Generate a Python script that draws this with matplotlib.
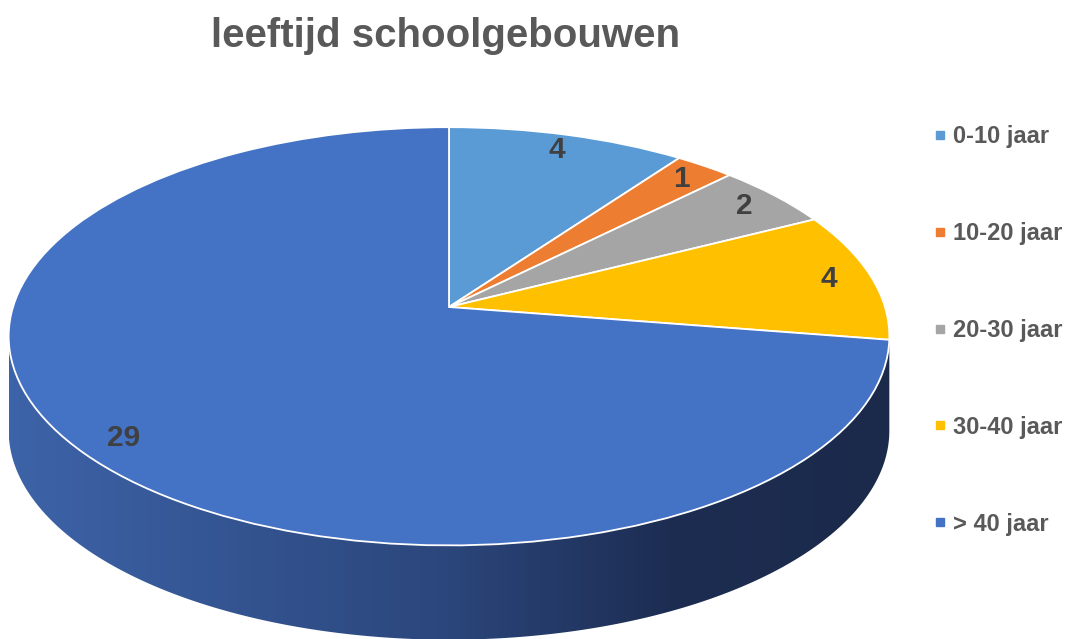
import numpy as np
import matplotlib.pyplot as plt
from matplotlib.colors import LinearSegmentedColormap
from matplotlib.lines import Line2D
from matplotlib.transforms import Transform

categories = ["0-10 jaar", "10-20 jaar", "20-30 jaar", "30-40 jaar", "> 40 jaar"]
counts = [4, 1, 2, 4, 29]
colors = ["#5B9BD5", "#ED7D31", "#A5A5A5", "#FFC000", "#4472C4"]

plt.rcParams["font.family"] = ["Liberation Sans", "DejaVu Sans"]


class Tilt(Transform):
    """Simple perspective for a disc seen from the front: far side shrinks."""
    input_dims = output_dims = 2
    is_separable = False
    has_inverse = False

    def __init__(self, k):
        super().__init__()
        self.k = k

    def transform_non_affine(self, values):
        v = np.asarray(values, dtype=float)
        s = 1.0 / (1.0 + self.k * v[:, 1])
        return np.column_stack([v[:, 0] * s, v[:, 1] * s])


W, H = 1069, 639
fig = plt.figure(figsize=(W / 100, H / 100), dpi=100)

# pie centre (px), pixels per unit, side depth
cx, cy, sx, sy = 449, 307, 436, 205
depth = 0.46
tilt = Tilt(0.14)
xlo, xhi, ylo, yhi = -1.04, 1.04, -1.62, 1.05
ax = fig.add_axes([(cx + xlo * sx) / W, (H - (cy - ylo * sy)) / H,
                   (xhi - xlo) * sx / W, (yhi - ylo) * sy / H])

# side of the 3d disc: front rim between the outermost left/right points
t = np.linspace(0, 2 * np.pi, 3000)
rim = tilt.transform(np.c_[np.cos(t), np.sin(t)])
front = t > np.pi
iL = np.where(front)[0][np.argmin(rim[front, 0])]
iR = np.where(front)[0][np.argmax(rim[front, 0])]
arc = rim[iL:iR + 1]
side = np.concatenate([arc, arc[::-1] - [0, depth]])
clip = plt.Polygon(side, closed=True, facecolor="none", edgecolor="none")
ax.add_patch(clip)
side_cmap = LinearSegmentedColormap.from_list(
    "side", [(0, "#3D63A8"), (0.5, "#2B467B"), (0.75, "#1D2D52"), (1, "#1B2A4A")])
grad = np.linspace(0, 1, 256)[None, :]
img = ax.imshow(grad, cmap=side_cmap,
                extent=(arc[:, 0].min(), arc[:, 0].max(), arc[:, 1].min() - depth, 0),
                aspect="auto", zorder=1)
img.set_clip_path(clip)

total = sum(counts)
wedges, texts, autotexts = ax.pie(
    counts, colors=colors, startangle=90, counterclock=False, radius=1,
    autopct=lambda p: f"{p * total / 100:.0f}", pctdistance=0.9,
    wedgeprops=dict(edgecolor="white", linewidth=1.3),
    textprops=dict(fontsize=21.5, fontweight="bold", color="#404040"),
    frame=True)
for w in wedges:
    w.set_transform(tilt + ax.transData)
    w.set_zorder(2)
for a in autotexts:
    a.set_transform(tilt + ax.transData)
    a.set_zorder(3)

ax.set_xlim(xlo, xhi)
ax.set_ylim(ylo, yhi)
ax.set_aspect("auto")
ax.set_axis_off()

fig.text(446 / W, 1 - 47 / H, "leeftijd schoolgebouwen", ha="center", va="baseline",
         fontsize=29, fontweight="bold", color="#595959")

handles = [Line2D([], [], marker="s", linestyle="none", markersize=6,
                  markerfacecolor=c, markeredgecolor=c) for c in colors]
fig.legend(handles, categories, loc="upper left",
           bbox_to_anchor=(933 / W, 1 - 125 / H), frameon=False,
           borderpad=0, borderaxespad=0,
           handlelength=0.6, handletextpad=0.25, labelspacing=3.13,
           prop=dict(size=17, weight="bold"), labelcolor="#595959")

plt.savefig("out.png", dpi=100)
